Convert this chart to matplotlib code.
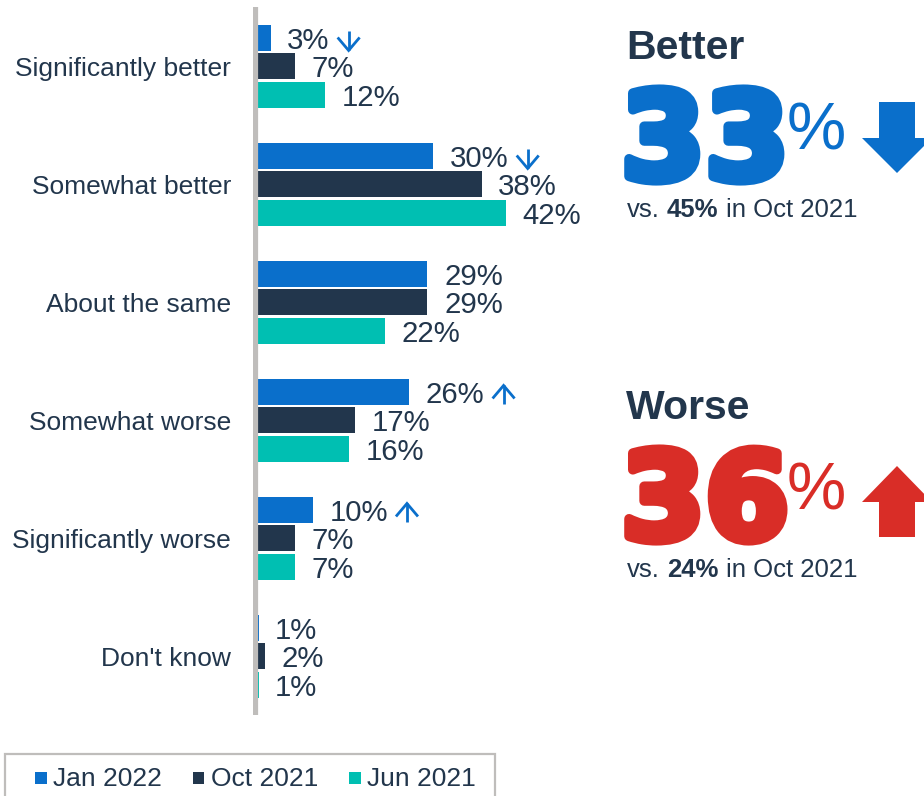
import matplotlib
matplotlib.use("Agg")
import matplotlib.pyplot as plt
from matplotlib.patches import Rectangle, Polygon
from matplotlib.lines import Line2D
from matplotlib.transforms import IdentityTransform
import matplotlib.patheffects as pe

plt.rcParams['font.family'] = ['Liberation Sans', 'DejaVu Sans']

# ---- data -------------------------------------------------------------
categories = ["Significantly better", "Somewhat better", "About the same",
              "Somewhat worse", "Significantly worse", "Don't know"]
series_names = ["Jan 2022", "Oct 2021", "Jun 2021"]
jan_2022 = [3, 30, 29, 26, 10, 1]
oct_2021 = [7, 38, 29, 17, 7, 2]
jun_2021 = [12, 42, 22, 16, 7, 1]
# significant change markers on the latest wave
jan_trend = ["down", "down", "", "up", "up", ""]

# net scores: better = first two rows, worse = rows 4 and 5
better_now = jan_2022[0] + jan_2022[1]
better_prev = oct_2021[0] + oct_2021[1]
worse_now = jan_2022[3] + jan_2022[4]
worse_prev = oct_2021[3] + oct_2021[4]

# ---- style ------------------------------------------------------------
NAVY = "#22364C"
BLUE = "#0A6FCB"
TEAL = "#00BFB2"
RED = "#D92D27"
GRAY = "#BFBDBB"
colors = [BLUE, NAVY, TEAL]

W, H = 924, 796
fig = plt.figure(figsize=(W / 100, H / 100), dpi=100)
fig.patch.set_facecolor("white")


def fx(x):
    return x / W


def fy(y):
    return 1 - y / H


ax = fig.add_axes([fx(252.5), fy(715), (590.2 - 252.5) / W, 708 / H])
ax.set_xlim(0, 56)
ax.set_ylim(5.496, -0.504)
for s in ax.spines.values():
    s.set_visible(False)
ax.set_xticks([])

group_step = 118.0
offsets = [-28.5 / group_step, 0.0, 28.5 / group_step]
bar_h = 26 / group_step
series = [jan_2022, oct_2021, jun_2021]
ypos = list(range(len(categories)))

value_texts = []
for vals, col, off in zip(series, colors, offsets):
    ys = [y + off for y in ypos]
    ax.barh(ys, vals, height=bar_h, color=col, linewidth=0, zorder=2)
    row = []
    for v, y in zip(vals, ys):
        t = ax.annotate(f"{v}%", xy=(v, y), xytext=(12, -7.6),
                        textcoords="offset points", ha="left", va="baseline",
                        fontsize=21.2, color=NAVY)
        row.append(t)
    value_texts.append(row)

ax.axvline(0.2, color=GRAY, lw=5.2, zorder=3)

ax.set_yticks(ypos)
ax.set_yticklabels(categories, fontsize=19, color=NAVY)
ax.tick_params(axis="y", length=0, pad=15.5)

# ---- right-hand summary ------------------------------------------------
fig.canvas.draw()
renderer = fig.canvas.get_renderer()
ID = IdentityTransform()


def text_width(s, **kw):
    t = fig.text(0, 0, s, **kw)
    w = t.get_window_extent(renderer).width
    t.remove()
    return w


def summary(title, now, prev, color, y_title, y_num, y_pct, y_vs):
    fig.text(fx(626), fy(y_title), title, fontsize=29.5, fontweight="bold",
             color=NAVY, ha="left", va="baseline")
    # heavy headline figure
    num = fig.text(fx(621), fy(y_num), f"{now}", fontsize=87,
                   family="DejaVu Sans", fontweight="bold", color=color,
                   ha="left", va="baseline",
                   path_effects=[pe.withStroke(linewidth=7,
                                               foreground=color)])
    nb = num.get_window_extent(renderer)
    fig.text((nb.x1 - 3) / W, fy(y_pct), "%", fontsize=48, color=color,
             ha="left", va="baseline")
    # "vs. XX% in Oct 2021" with the figure in bold
    kw = dict(fontsize=18.5, color=NAVY, ha="left", va="baseline")
    space = text_width("a a", **kw) - text_width("aa", **kw)
    x = 627
    parts = [("vs.", "normal", True), (f"{prev}%", "bold", True),
             ("in Oct 2021", "normal", False)]
    for s, wgt, sp in parts:
        t = fig.text(fx(x), fy(y_vs), s, fontweight=wgt, **kw)
        x += t.get_window_extent(renderer).width + (space if sp else 0)


summary("Better", better_now, better_prev, BLUE, 59, 179, 149, 217)
summary("Worse", worse_now, worse_prev, RED, 419, 539, 509, 577)

# big trend arrows (image pixel coordinates, y measured from the top)
down = [(879, 102), (915, 102), (915, 138), (932, 138), (897, 173),
        (862, 138), (879, 138)]
up = [(879, 537), (915, 537), (915, 502), (932, 502), (897, 466),
      (862, 502), (879, 502)]
for pts, col in ((down, BLUE), (up, RED)):
    fig.add_artist(Polygon([(fx(x), fy(y)) for x, y in pts], closed=True,
                           facecolor=col, edgecolor="none",
                           transform=fig.transFigure))

# small significance arrows next to the Jan 2022 labels
for i, trend in enumerate(jan_trend):
    if not trend:
        continue
    t = value_texts[0][i]
    bb = t.get_window_extent(renderer)
    cx = bb.x1 + 8 + 11
    _, cy = ax.transData.transform((jan_2022[i], ypos[i] + offsets[0]))
    cy -= 3
    if trend == "down":
        stem = [(cx, cy + 9.5), (cx, cy - 9.5)]
        head = [(cx - 11, cy + 3.5), (cx, cy - 9.5), (cx + 11, cy + 3.5)]
    else:
        stem = [(cx, cy - 9.5), (cx, cy + 9.5)]
        head = [(cx - 11, cy - 3.5), (cx, cy + 9.5), (cx + 11, cy - 3.5)]
    for seg in (stem, head):
        xs, ys = zip(*seg)
        fig.add_artist(Line2D(xs, ys, color=BLUE, lw=2.0, transform=ID,
                              solid_joinstyle="miter", solid_capstyle="butt"))

# ---- legend -------------------------------------------------------------
fig.add_artist(Rectangle((5, H - 812), 490, 812 - 754, transform=ID,
                         fill=False, edgecolor=GRAY, lw=1.6))
x = 35
for name, col in zip(series_names, colors):
    fig.add_artist(Rectangle((x, H - 783.5), 11.5, 11.5, transform=ID,
                             facecolor=col, edgecolor="none"))
    t = fig.text(fx(x + 18), fy(786), name, fontsize=19, color=NAVY,
                 ha="left", va="baseline")
    x = t.get_window_extent(renderer).x1 + 31

fig.savefig("out.png", dpi=100, facecolor="white")
